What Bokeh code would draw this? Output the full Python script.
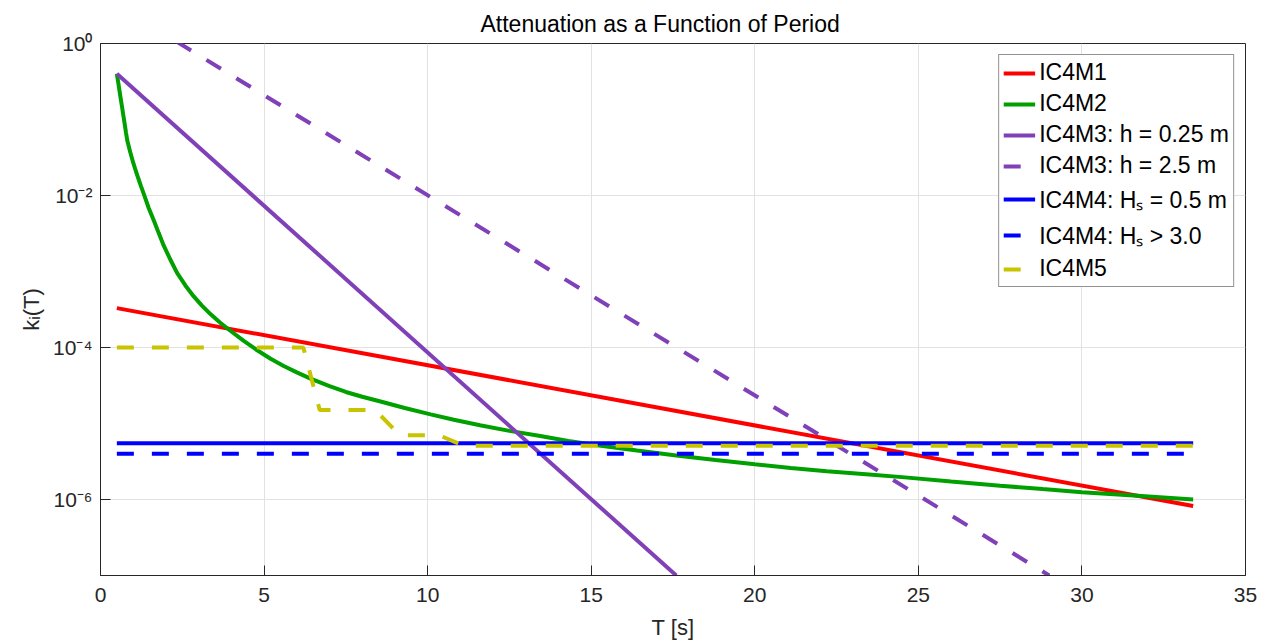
from bokeh.plotting import figure
from bokeh.models import FixedTicker, Legend, LegendItem, CustomJSTickFormatter
from bokeh.embed import file_html
from bokeh.resources import INLINE

# ---- data ----
x_ticks = [0, 5, 10, 15, 20, 25, 30, 35]
y_ticks = [1e-6, 1e-4, 1e-2, 1e0]

T_M1 = [0.5, 33.4]
k_M1 = [3.3e-4, 8.2e-7]

T_M2 = [0.5, 0.54, 0.58, 0.62, 0.66, 0.70, 0.74, 0.78, 0.82, 0.91, 1.0, 1.08,
        1.16, 1.24, 1.32, 1.47, 1.63, 1.78, 1.93, 2.13, 2.34, 2.6, 2.85, 3.1,
        3.36, 3.66, 3.97, 4.38, 4.79, 5.2, 5.6, 6.0, 6.42, 7.0, 7.5, 8.0, 8.56,
        9.3, 10.09, 10.8, 11.6, 12.5, 13.4, 14.3, 15.3, 16.4, 17.6, 18.8, 20.0,
        21.1, 22.2, 23.4, 24.5, 26.0, 27.5, 28.8, 30.0, 31.7, 33.4]
k_M2 = [0.40, 0.31, 0.24, 0.185, 0.145, 0.112, 0.087, 0.067, 0.0525, 0.037,
        0.027, 0.021, 0.0166, 0.0132, 0.0106, 6.9e-3, 4.7e-3, 3.2e-3, 2.2e-3,
        1.45e-3, 9.6e-4, 6.5e-4, 4.7e-4, 3.55e-4, 2.75e-4, 2.12e-4, 1.66e-4,
        1.22e-4, 9.2e-5, 7.1e-5, 5.7e-5, 4.7e-5, 3.9e-5, 3.1e-5, 2.6e-5,
        2.25e-5, 1.95e-5, 1.6e-5, 1.32e-5, 1.12e-5, 9.5e-6, 8.0e-6, 6.9e-6,
        5.9e-6, 5.1e-6, 4.4e-6, 3.8e-6, 3.3e-6, 2.9e-6, 2.6e-6, 2.35e-6,
        2.15e-6, 1.97e-6, 1.72e-6, 1.52e-6, 1.37e-6, 1.25e-6, 1.12e-6, 1.0e-6]

T_M3a = [0.5, 17.6]
k_M3a = [0.40, 1.0e-7]

T_M3b = [0.5, 29.0]
k_M3b = [3.2, 1.0e-7]

T_M4a = [0.5, 33.4]
k_M4a = [5.5e-6, 5.5e-6]

T_M4b = [0.5, 33.4]
k_M4b = [4.0e-6, 4.0e-6]

T_M5 = [0.5, 6.2, 6.7, 8.4, 9.15, 10.35, 11.1, 33.4]
k_M5 = [1.0e-4, 1.0e-4, 1.5e-5, 1.5e-5, 7.0e-6, 7.0e-6, 5.1e-6, 5.1e-6]

labels = ["IC4M1", "IC4M2", "IC4M3: h = 0.25 m", "IC4M3: h = 2.5 m",
          "IC4M4: H\u209b = 0.5 m", "IC4M4: H\u209b > 3.0", "IC4M5"]

# ---- figure ----
FONT = "Liberation Sans"
AX = "#262626"

p = figure(frame_width=1145, frame_height=532, x_range=(0, 35), y_range=(1e-7, 1),
           y_axis_type="log", output_backend="svg", toolbar_location=None,
           min_border_left=100, min_border_right=18, min_border_top=43,
           min_border_bottom=62, title="Attenuation as a Function of Period")
p.title.align = "left"
p.title.offset = 380
p.title.text_font = FONT
p.title.text_font_size = "23px"
p.title.text_font_style = "normal"
p.title.text_color = "#000000"
p.title.standoff = 14

p.outline_line_color = AX
p.outline_line_width = 1
p.background_fill_color = "white"

xt = FixedTicker(ticks=x_ticks)
yt = FixedTicker(ticks=y_ticks)
p.xaxis.ticker = xt
p.yaxis.ticker = yt
p.yaxis.formatter = CustomJSTickFormatter(code="""
const e = Math.round(Math.log10(tick));
const sup = {'0':'\u2070','1':'\u00b9','2':'\u00b2','3':'\u00b3','4':'\u2074','5':'\u2075','6':'\u2076','7':'\u2077','8':'\u2078','9':'\u2079','-':'\u207b'};
return '10' + String(e).split('').map(c => sup[c]).join('');
""")

for ax in (p.xaxis[0], p.yaxis[0]):
    ax.axis_line_color = AX
    ax.major_tick_line_color = AX
    ax.major_tick_in = 10
    ax.major_tick_out = 0
    ax.minor_tick_line_color = None
    ax.major_label_text_font = FONT
    ax.major_label_text_font_size = "21px"
    ax.major_label_text_color = AX
    ax.axis_label_text_font = FONT
    ax.axis_label_text_font_size = "22px"
    ax.axis_label_text_font_style = "normal"
    ax.axis_label_text_color = AX

p.xaxis.major_label_standoff = 12
p.yaxis.major_label_standoff = 8
p.xaxis.axis_label = "T [s]"
p.yaxis.axis_label = "k\u1d62(T)"
p.xaxis.axis_label_standoff = 10
p.yaxis.axis_label_standoff = 6

p.xgrid.grid_line_color = "#e2e2e2"
p.ygrid.grid_line_color = "#e2e2e2"
p.ygrid.minor_grid_line_color = None

DASH = "17 18"
LW = 4
r1 = p.line(T_M1, k_M1, line_color="#ff0000", line_width=LW)
r2 = p.line(T_M2, k_M2, line_color="#00a000", line_width=LW)
r3 = p.line(T_M3a, k_M3a, line_color="#8040b8", line_width=LW)
r4 = p.line(T_M3b, k_M3b, line_color="#8040b8", line_width=LW, line_dash=DASH)
r5 = p.line(T_M4a, k_M4a, line_color="#0000ff", line_width=LW)
r6 = p.line(T_M4b, k_M4b, line_color="#0000ff", line_width=LW, line_dash=DASH)
r7 = p.line(T_M5, k_M5, line_color="#c8c400", line_width=LW, line_dash=DASH)

items = [LegendItem(label=l, renderers=[r]) for l, r in
         zip(labels, [r1, r2, r3, r4, r5, r6, r7])]
legend = Legend(items=items, location="top_right")
legend.margin = 11
legend.padding = 4
legend.spacing = 4
legend.glyph_width = 32
legend.glyph_height = 22
legend.label_height = 22
legend.label_standoff = 4
legend.label_text_font = FONT
legend.label_text_font_size = "23px"
legend.label_text_color = "#000000"
legend.border_line_color = AX
legend.border_line_width = 1
legend.background_fill_alpha = 1
p.add_layout(legend)

open("out.html", "w").write(file_html(p, INLINE))
